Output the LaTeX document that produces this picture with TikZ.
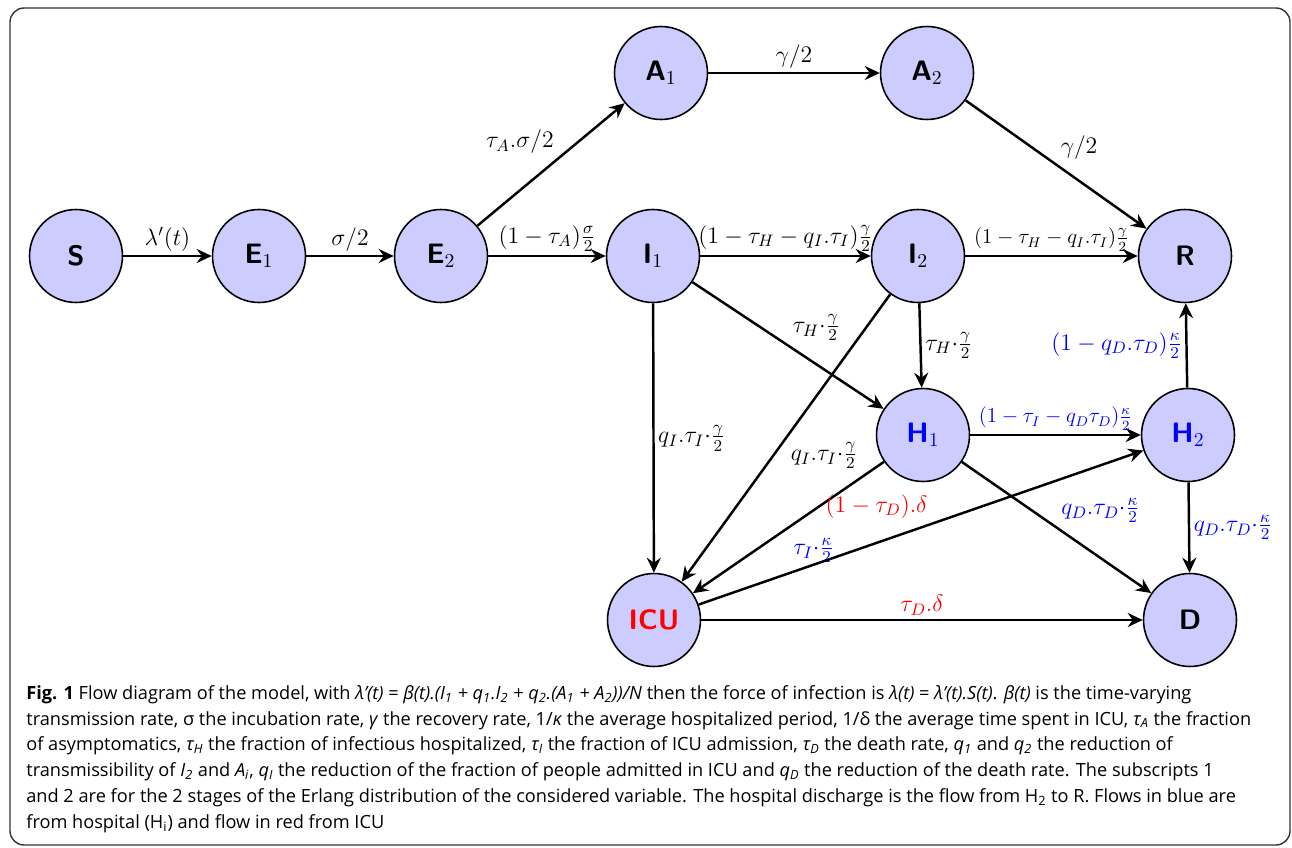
\RequirePackage{fix-cm}
\documentclass[tikz,border=0pt]{standalone}
\usepackage{amsmath}
\usepackage{fontspec}
\usepackage{tikz}
\usetikzlibrary{arrows.meta, positioning}
\newfontfamily\capfont{Open Sans}
\definecolor{statefill}{HTML}{CCCCFF}
\definecolor{hospblue}{HTML}{0000FF}
\definecolor{icured}{HTML}{FF0000}

\begin{document}
\begin{tikzpicture}[
  x=0.02cm, y=-0.02cm,
  state/.style={circle, draw, line width=0.9pt, fill=statefill, minimum size=1.86cm, inner sep=0pt, font=\fontsize{16}{19}\selectfont\sffamily\bfseries},
  flow/.style={-{Stealth[length=3mm, width=2.8mm, inset=1mm]}, line width=1.4pt},
  rate/.style={font=\fontsize{13.5}{16}\selectfont, inner sep=2pt},
  ratesm/.style={font=\fontsize{12}{14}\selectfont, inner sep=2pt},
]
  \useasboundingbox (0,0) rectangle (1292,848);
  \draw[line width=0.8pt, draw=black!80, rounded corners=8pt] (10,8) rectangle (1290,845);

  % compartments
  \node[state] (S) at (76,256) {S};
  \node[state] (E1) at (259,256) {E$_1$};
  \node[state] (E2) at (441,256) {E$_2$};
  \node[state] (A1) at (661,73) {A$_1$};
  \node[state] (A2) at (927,73) {A$_2$};
  \node[state] (I1) at (653,256) {I$_1$};
  \node[state] (I2) at (918,256) {I$_2$};
  \node[state] (R) at (1185,256) {R};
  \node[state, text=hospblue] (H1) at (923,435) {H$_1$};
  \node[state, text=hospblue] (H2) at (1188,435) {H$_2$};
  \node[state, text=icured] (ICU) at (654,620) {ICU};
  \node[state] (D) at (1190,620) {D};

  % flows
  \draw[flow] (S) -- node[rate, above] {$\lambda'(t)$} (E1);
  \draw[flow] (E1) -- node[rate, above] {$\sigma/2$} (E2);
  \draw[flow] (E2) -- node[rate, above] {$(1-\tau_A)\frac{\sigma}{2}$} (I1);
  \draw[flow] (E2) -- node[rate, above left, pos=0.55] {$\tau_A.\sigma/2$} (A1);
  \draw[flow] (A1) -- node[rate, above] {$\gamma/2$} (A2);
  \draw[flow] (A2) -- node[rate, above right] {$\gamma/2$} (R);
  \draw[flow] (I1) -- node[rate, above] {$(1-\tau_H-q_I.\tau_I)\frac{\gamma}{2}$} (I2);
  \draw[flow] (I2) -- node[ratesm, above] {$(1-\tau_H-q_I.\tau_I)\frac{\gamma}{2}$} (R);
  \draw[flow] (I1) -- node[rate, above right] {$\tau_H{\cdot}\frac{\gamma}{2}$} (H1);
  \draw[flow] (I2) -- node[rate, right] {$\tau_H{\cdot}\frac{\gamma}{2}$} (H1);
  \draw[flow] (I1) -- node[rate, right] {$q_I.\tau_I{\cdot}\frac{\gamma}{2}$} (ICU);
  \draw[flow] (I2) -- node[rate, below right] {$q_I.\tau_I{\cdot}\frac{\gamma}{2}$} (ICU);
  \draw[flow] (H1) -- node[rate, text=hospblue, below right, pos=0.5, yshift=-0.12cm] {$\tau_I{\cdot}\frac{\kappa}{2}$} (ICU);
  \draw[flow] (ICU) -- node[rate, text=icured, above=0.4cm, pos=0.4] {$(1-\tau_D).\delta$} (H2);
  \draw[flow] (H1) -- node[ratesm, text=hospblue, above] {$(1-\tau_I-q_D\tau_D)\frac{\kappa}{2}$} (H2);
  \draw[flow] (H1) -- node[rate, text=hospblue, above right] {$q_D.\tau_D{\cdot}\frac{\kappa}{2}$} (D);
  \draw[flow] (H2) -- node[rate, text=hospblue, right] {$q_D.\tau_D{\cdot}\frac{\kappa}{2}$} (D);
  \draw[flow] (H2) -- node[rate, text=hospblue, left] {$(1-q_D.\tau_D)\frac{\kappa}{2}$} (R);
  \draw[flow] (ICU) -- node[rate, text=icured, above] {$\tau_D.\delta$} (D);

  % caption
  \node[anchor=north west, align=left, inner sep=0pt, font=\capfont\fontsize{10.35}{14.7}\selectfont] (cap) at (26,685)
    {\textbf{Fig. 1} Flow diagram of the model, with \textit{λ’(t)} = \textit{β(t).(I\textsubscript{1} + q\textsubscript{1}.I\textsubscript{2} + q\textsubscript{2}.(A\textsubscript{1} + A\textsubscript{2}))/N} then the force of infection is \textit{λ(t)} = \textit{λ’(t).S(t)}. \textit{β(t)} is the time-varying\\
     transmission rate, σ the incubation rate, \textit{γ} the recovery rate, 1/\textit{κ} the average hospitalized period, 1/δ the average time spent in ICU, \textit{τ\textsubscript{A}} the fraction\\
     of asymptomatics, \textit{τ\textsubscript{H}} the fraction of infectious hospitalized, \textit{τ\textsubscript{I}} the fraction of ICU admission, \textit{τ\textsubscript{D}} the death rate, \textit{q\textsubscript{1}} and \textit{q\textsubscript{2}} the reduction of\\
     transmissibility of \textit{I\textsubscript{2}} and \textit{A\textsubscript{i}}, \textit{q\textsubscript{I}} the reduction of the fraction of people admitted in ICU and \textit{q\textsubscript{D}} the reduction of the death rate. The subscripts 1\\
     and 2 are for the 2 stages of the Erlang distribution of the considered variable. The hospital discharge is the flow from H\textsubscript{2} to R. Flows in blue are\\
     from hospital (H\textsubscript{i}) and flow in red from ICU};

\end{tikzpicture}
\end{document}
